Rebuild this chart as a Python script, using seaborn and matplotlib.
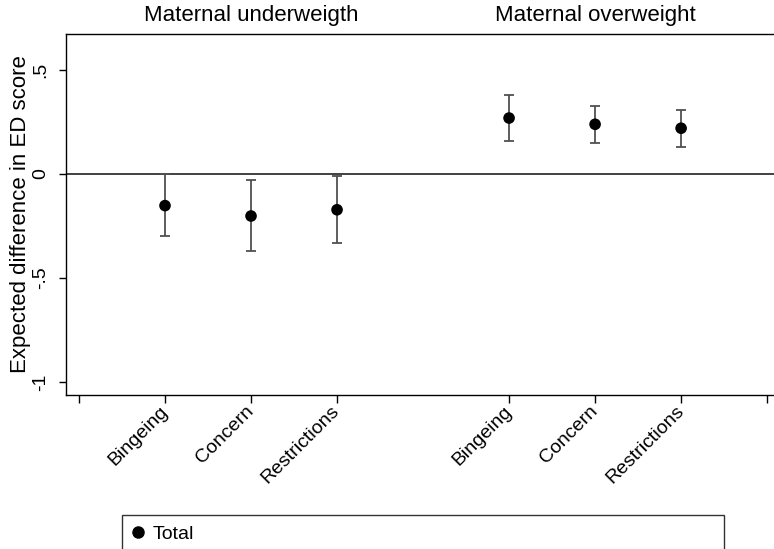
import numpy as np
import pandas as pd
import matplotlib
matplotlib.use("Agg")
import matplotlib.pyplot as plt
import matplotlib.transforms as mtransforms
from matplotlib.lines import Line2D
import seaborn as sns

groups = ["Maternal underweigth", "Maternal overweight"]
outcomes = ["Bingeing", "Concern", "Restrictions"]
estimate = [-0.152, -0.202, -0.172, 0.269, 0.239, 0.220]
ci_low = [-0.300, -0.369, -0.330, 0.159, 0.149, 0.131]
ci_high = [0.000, -0.030, -0.011, 0.380, 0.328, 0.309]
ytick_vals = [-1, -0.5, 0, 0.5]
ytick_labels = ["-1", "-.5", "0", ".5"]
legend_label = "Total"

rows = []
for gi, g in enumerate(groups):
    for ci, o in enumerate(outcomes):
        k = gi * len(outcomes) + ci
        rows.append(dict(group=g, outcome=o, pos=1 + ci + 4 * gi,
                         est=estimate[k], lo=ci_low[k], hi=ci_high[k]))
df = pd.DataFrame(rows)

sns.set_theme(style="white")
plt.rcParams["font.family"] = ["Liberation Sans", "DejaVu Sans"]
plt.rcParams["text.color"] = "black"
plt.rcParams["axes.labelcolor"] = "black"
plt.rcParams["xtick.color"] = "black"
plt.rcParams["ytick.color"] = "black"

W, H = 774, 549
fig = plt.figure(figsize=(W / 100, H / 100), dpi=100)
ax = fig.add_axes([66 / W, 1 - 395 / H, (W - 66) / W, (395 - 34) / H])

ax.axhline(0, color="#333333", lw=1.3, zorder=1)
ax.errorbar(df["pos"], df["est"],
            yerr=[df["est"] - df["lo"], df["hi"] - df["est"]],
            fmt="none", ecolor="#505050", elinewidth=1.3, capsize=3.5,
            capthick=1.3, zorder=2)
sns.scatterplot(data=df, x="pos", y="est", color="black", s=70,
                edgecolor="none", ax=ax, legend=False, zorder=3)

ax.set_xlim(-0.151, 8.08)
ax.set_ylim(-1.0625, 0.673)

ticks = [0, 1, 2, 3, 5, 6, 7, 8]
ax.set_xticks(ticks)
labels = []
for t in ticks:
    m = df[df["pos"] == t]
    labels.append(m["outcome"].iloc[0] if len(m) else "")
ax.set_xticklabels(labels, rotation=45, ha="right", va="center",
                   rotation_mode="anchor", fontsize=14)
ax.set_yticks(ytick_vals)
ax.set_yticklabels(ytick_labels, rotation=90, va="center", fontsize=14)
ax.tick_params(axis="x", bottom=True, length=6, width=1, color="black", pad=4)
ax.tick_params(axis="y", left=True, length=5, width=1, color="black", pad=7)

ax.set_xlabel("")
ax.set_ylabel("Expected difference in ED score", fontsize=16, labelpad=1)

for side in ["left", "bottom", "top"]:
    ax.spines[side].set_visible(True)
    ax.spines[side].set_color("black")
    ax.spines[side].set_linewidth(1.0)
ax.spines["right"].set_visible(False)

trans = mtransforms.blended_transform_factory(ax.transData, fig.transFigure)
for gi, g in enumerate(groups):
    ax.text(2 + 4 * gi, 1 - 16 / H, g, transform=trans, ha="center",
            va="center", fontsize=16, color="black")

handle = Line2D([], [], marker="o", color="black", linestyle="none",
                markersize=8)
leg = fig.legend([handle], [legend_label], loc="upper left",
                 bbox_to_anchor=(122 / W, 1 - 516 / H, (724 - 122) / W, 0.001),
                 mode="expand", fontsize=14, frameon=True, fancybox=False,
                 handlelength=0.6, handletextpad=0.5, borderpad=0.5,
                 borderaxespad=0)
leg.get_frame().set_edgecolor("black")
leg.get_frame().set_linewidth(1.0)
for t in leg.get_texts():
    t.set_color("black")

fig.savefig("out.png", dpi=100)
